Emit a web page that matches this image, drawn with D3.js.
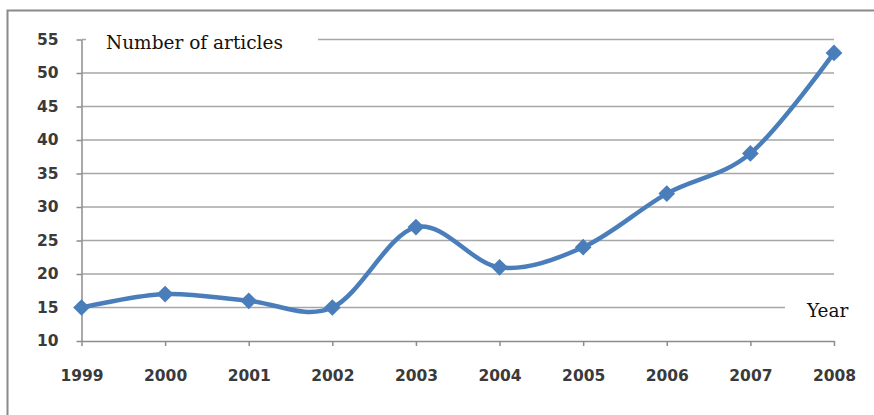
<!DOCTYPE html>
<html>
<head>
<meta charset="utf-8">
<script src="https://cdn.jsdelivr.net/npm/d3@7"></script>
<style>
  body { margin: 0; background: #fff; }
  .axis text { font-family: "DejaVu Sans", sans-serif; font-weight: bold; font-size: 15.5px; fill: #3a3a3a; }
  .axis path, .axis line { stroke: #8c8c8c; stroke-width: 1.5; }
  .lbl { font-family: "DejaVu Serif", serif; fill: #111; }
</style>
</head>
<body>
<div id="chart"></div>
<script>
// chart data
const years = ['1999', '2000', '2001', '2002', '2003', '2004', '2005', '2006', '2007', '2008'];
const articles = [15, 17, 16, 15, 27, 21, 24, 32, 38, 53];
const yTicks = [10, 15, 20, 25, 30, 35, 40, 45, 50, 55];

const WIDTH = 874;
const HEIGHT = 415;
const PLOT = {left: 81.5, right: 834, top: 39.5, bottom: 341};

const svg = d3.select('#chart')
  .append('svg')
    .attr('width', WIDTH)
    .attr('height', HEIGHT);

// outer frame (top and left edges only are visible)
svg.append('path')
  .attr('d', 'M7.5,' + HEIGHT + ' L7.5,10.5 L' + WIDTH + ',10.5')
  .attr('fill', 'none')
  .attr('stroke', '#8a8a8a')
  .attr('stroke-width', 2);

const x = d3.scalePoint()
  .domain(years)
  .range([PLOT.left, PLOT.right]);

const y = d3.scaleLinear()
  .domain([10, 55])
  .range([PLOT.bottom, PLOT.top]);

// gridlines
svg.append('g')
  .selectAll('line')
  .data(yTicks.slice(1))
  .enter()
  .append('line')
    .attr('x1', PLOT.left)
    .attr('x2', PLOT.right)
    .attr('y1', (d) => y(d))
    .attr('y2', (d) => y(d))
    .attr('stroke', '#a6a6a6')
    .attr('stroke-width', 1.5);

// white boxes behind the two axis captions
svg.append('rect')
  .attr('x', 86).attr('y', 24).attr('width', 232).attr('height', 34)
  .attr('fill', '#fff');
svg.append('rect')
  .attr('x', 785).attr('y', 294).attr('width', 70).attr('height', 32)
  .attr('fill', '#fff');

svg.append('g')
  .attr('class', 'axis')
  .attr('transform', 'translate(' + PLOT.left + ',0)')
  .call(d3.axisLeft(y).tickValues(yTicks).tickSize(5).tickSizeOuter(0).tickPadding(18));

svg.append('g')
  .attr('class', 'axis')
  .attr('transform', 'translate(0,' + PLOT.bottom + ')')
  .call(d3.axisBottom(x).tickSize(5).tickSizeOuter(0).tickPadding(24));

const line = d3.line()
  .x((d, i) => x(years[i]))
  .y((d) => y(d))
  .curve(d3.curveCardinal.tension(0));

svg.append('path')
  .datum(articles)
  .attr('d', line)
  .attr('fill', 'none')
  .attr('stroke', '#4a7ebb')
  .attr('stroke-width', 4.5)
  .attr('stroke-linejoin', 'round');

svg.append('g')
  .selectAll('path')
  .data(articles)
  .enter()
  .append('path')
    .attr('d', d3.symbol(d3.symbolSquare, 140))
    .attr('transform', (d, i) => 'translate(' + x(years[i]) + ',' + y(d) + ') rotate(45)')
    .attr('fill', '#4a7ebb');

svg.append('text')
  .attr('class', 'lbl')
  .attr('x', 106).attr('y', 49)
  .attr('font-size', '18.5px')
  .text('Number of articles');

svg.append('text')
  .attr('class', 'lbl')
  .attr('x', 807).attr('y', 317)
  .attr('font-size', '18.5px')
  .text('Year');
</script>
</body>
</html>
